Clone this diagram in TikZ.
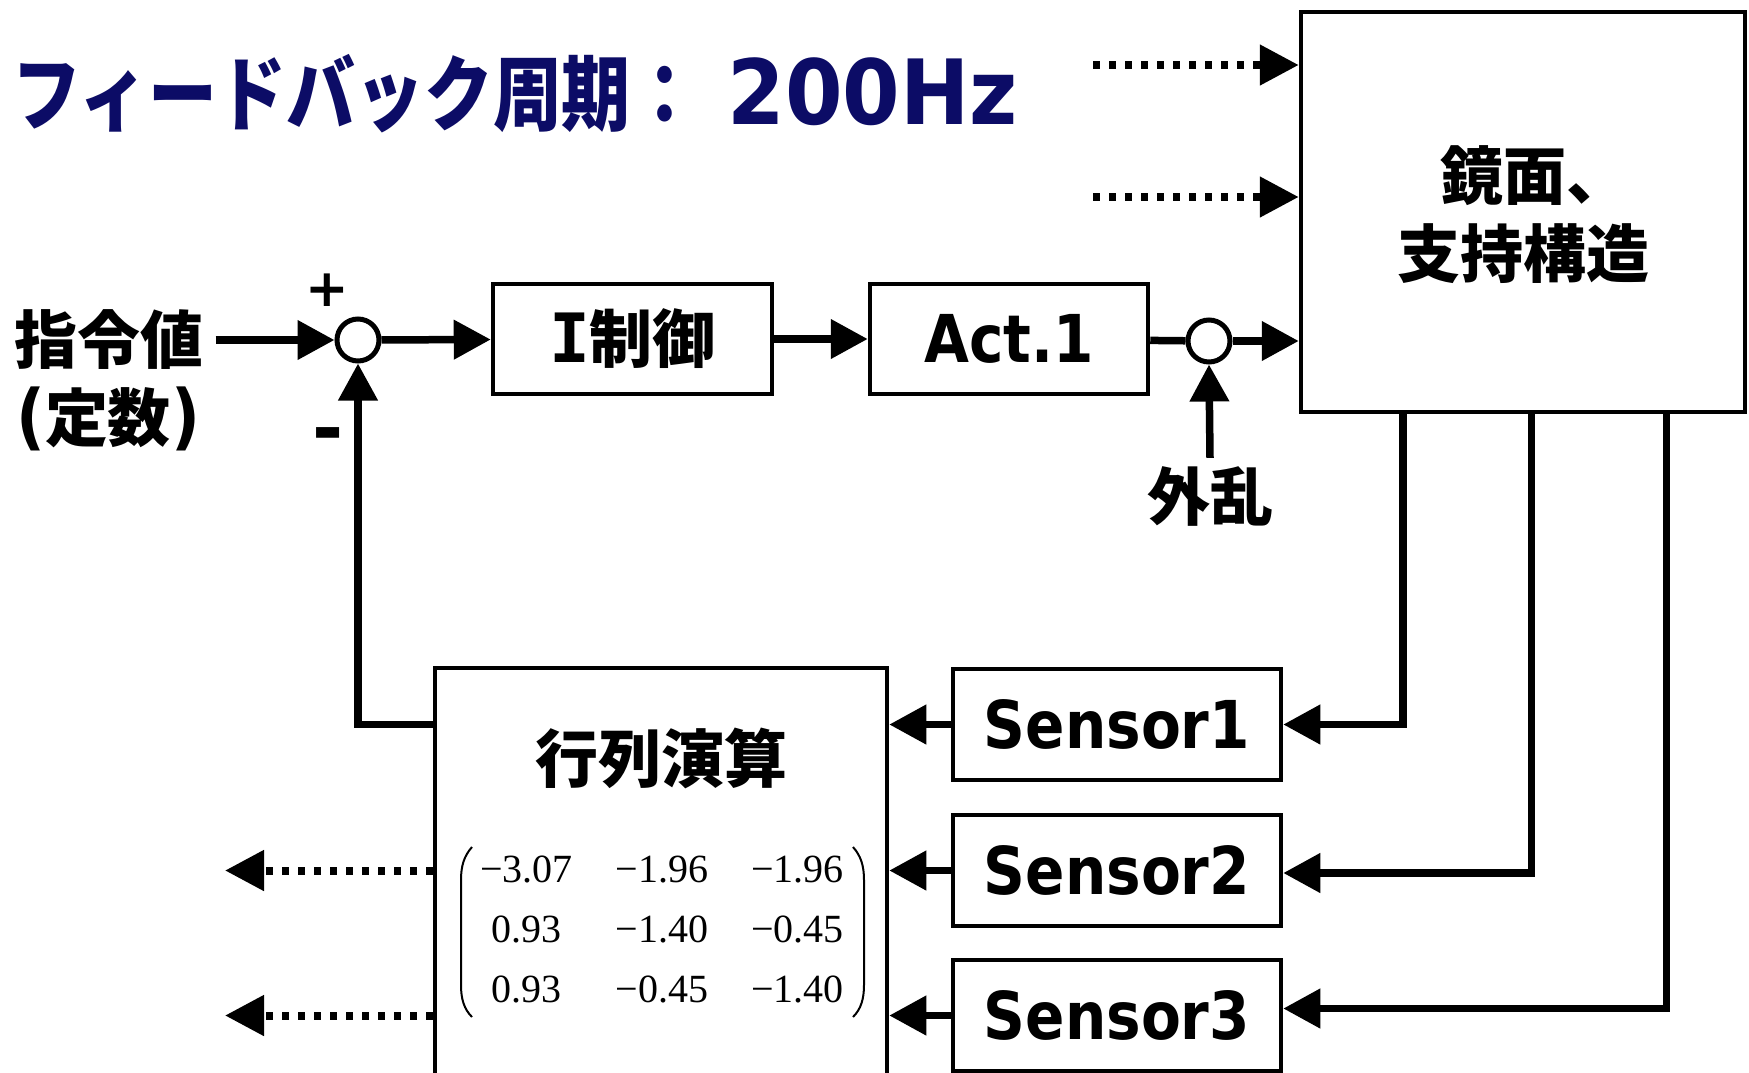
\documentclass[tikz,border=0pt]{standalone}
\usepackage{fontspec}
\usetikzlibrary{arrows.meta}
\setmainfont{DejaVu Sans}
\newfontfamily\jp{Noto Sans CJK JP}
\newfontfamily\jpt{Noto Sans CJK JP}[FakeStretch=0.84]
\newfontfamily\lat{DejaVu Sans}[FakeStretch=0.88]
\newfontfamily\latt{DejaVu Sans}[FakeStretch=0.92]
\newfontfamily\dv{DejaVu Sans}
\newfontfamily\dvm{DejaVu Sans Mono}
\newfontfamily\mx{Liberation Serif}
\definecolor{titleblue}{RGB}{12,12,102}
\begin{document}
\begin{tikzpicture}[x=1pt,y=-1pt,
  box/.style={draw, line width=4.5pt, rectangle, inner sep=0pt},
  sumc/.style={draw, circle, line width=5pt, minimum size=42pt, inner sep=0pt},
  arr/.style={line width=7.5pt, -{Triangle[length=37pt,width=38pt]}},
  ln/.style={line width=7.5pt},
  dotarr/.style={line width=8pt, dash pattern=on 7pt off 9pt, -{Triangle[length=39pt,width=39pt]}},
  jl/.style={font=\jp\bfseries\fontsize{63}{78}\selectfont, inner sep=0pt},
  ll/.style={font=\lat\bfseries\fontsize{66}{78}\selectfont, inner sep=0pt},
  paren/.style={line width=2pt}]
\useasboundingbox (0,0) rectangle (1749,1072);
\clip (0,0) rectangle (1749,1072);

% title
\node[anchor=base west, inner sep=0pt, text=titleblue, font=\jpt\bfseries\fontsize{82}{82}\selectfont] (title) at (12,124) {フィードバック周期：\hspace{28pt}{\latt\bfseries\fontsize{90}{90}\selectfont 200Hz}};

% forward path
\node[jl] (ref) at (109,340) {指令値};
\node[jl] (refc) at (108,419) {{\lat\bfseries\fontsize{72}{78}\selectfont (}定数{\lat\bfseries\fontsize{72}{78}\selectfont )}};
\node[sumc] (sum1) at (358,340) {};
\node[font=\dv\bfseries\fontsize{52}{52}\selectfont, inner sep=0pt] (plus) at (327,290) {+};
\node[font=\dv\bfseries\fontsize{75}{75}\selectfont, inner sep=0pt] (minus) at (328,441) {-};
\node[box, minimum width=279pt, minimum height=110pt, jl] (ctrl) at (632.5,339) {{\dvm\bfseries\fontsize{68}{78}\selectfont I}制御};
\node[box, minimum width=278pt, minimum height=110pt, ll] (act) at (1009,339) {Act.1};
\node[sumc] (sum2) at (1209,341) {};
\node[jl] (dist) at (1210,496) {外乱};
\node[box, minimum width=444pt, minimum height=400pt] (plant) at (1523,212) {};
\node[jl, align=center] (plabel) at (1523,215) {\hspace*{24pt}鏡面、\\支持構造};

% sensors and matrix
\node[box, minimum width=328pt, minimum height=111pt, ll] (s1) at (1117,724.5) {Sensor1};
\node[box, minimum width=328pt, minimum height=111pt, ll] (s2) at (1117,870.5) {Sensor2};
\node[box, minimum width=328pt, minimum height=111pt, ll] (s3) at (1117,1015.5) {Sensor3};
\node[box, minimum width=452pt, minimum height=422pt] (mat) at (661,879) {};
\node[jl] (mtitle) at (661,758) {行列演算};
\node[font=\mx\fontsize{40}{60}\selectfont, inner sep=0pt] (mvals) at (662,930) {\begin{tabular}{@{}c@{\hspace{43pt}}c@{\hspace{43pt}}c@{}}−3.07 & −1.96 & −1.96\\0.93 & −1.40 & −0.45\\0.93 & −0.45 & −1.40\end{tabular}};
\draw[paren] (472,847) .. controls (464,856) and (461,866) .. (461,880) -- (461,985) .. controls (461,999) and (464,1009) .. (472,1017);
\draw[paren] (853,847) .. controls (861,856) and (864,866) .. (864,880) -- (864,985) .. controls (864,999) and (861,1009) .. (853,1017);

% free ends
\coordinate (d1) at (1093,65);
\coordinate (d2) at (1093,197);
\coordinate (o1) at (225,870.5);
\coordinate (o2) at (225,1015.5);

% connectors
\draw[arr] ([xshift=12pt]ref.east) -- (sum1.west);
\draw[arr] (sum1) -- (ctrl);
\draw[arr] (ctrl) -- (act);
\draw[ln] (act) -- (sum2);
\draw[arr] (sum2) -- (sum2 -| plant.west);
\draw[arr] ([yshift=8pt]dist.north) -- (sum2.south);
\draw[dotarr] (d1) -- (d1 -| plant.west);
\draw[dotarr] (d2) -- (d2 -| plant.west);
\draw[arr] ([xshift=-120pt]plant.south) |- (s1.east);
\draw[arr] ([xshift=8.5pt]plant.south) |- ([yshift=-2.5pt]s2.east);
\draw[arr] ([xshift=143.5pt]plant.south) |- ([yshift=7pt]s3.east);
\draw[arr] (s1) -- (s1 -| mat.east);
\draw[arr] (s2) -- (s2 -| mat.east);
\draw[arr] (s3) -- (s3 -| mat.east);
\draw[arr] (mat.west |- s1.west) -| (sum1.south);
\draw[dotarr] (mat.west |- s2.west) -- (o1);
\draw[dotarr] (mat.west |- s3.west) -- (o2);
\end{tikzpicture}
\end{document}
